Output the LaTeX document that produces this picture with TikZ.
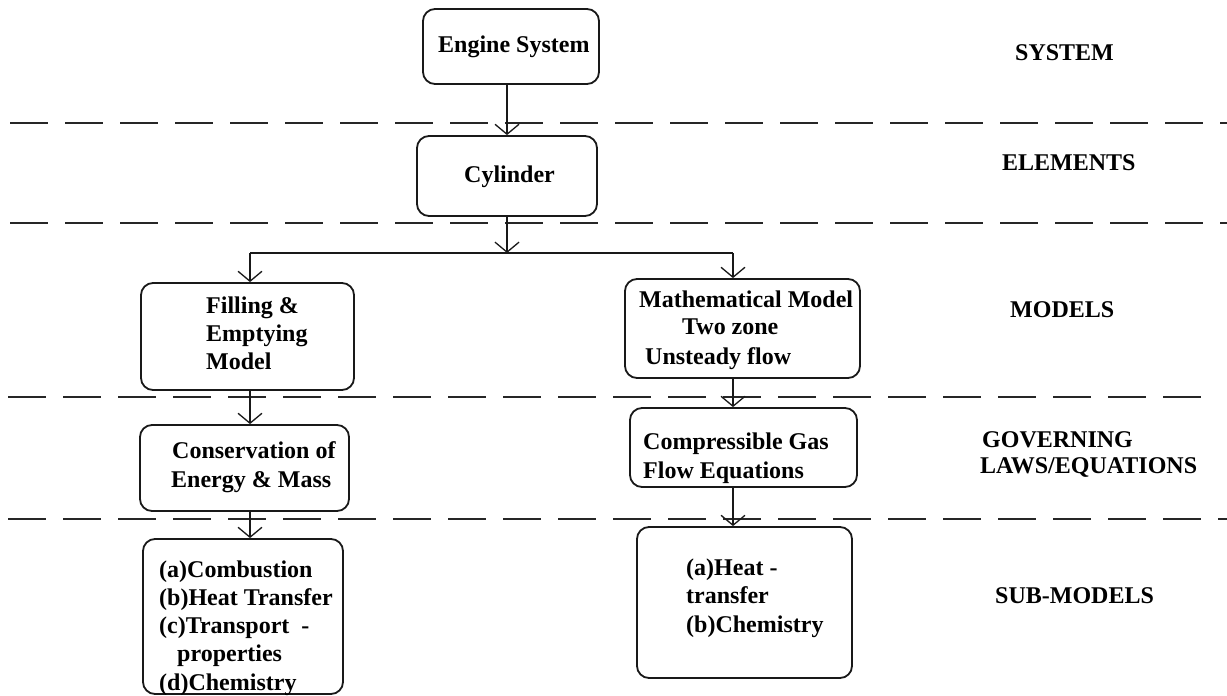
\documentclass[tikz,border=0pt]{standalone}
\usepackage{fontspec}
\setmainfont{Liberation Serif}
\usetikzlibrary{arrows.meta}
\tikzset{
  box/.style={draw=black!90, line width=1.8pt, rounded corners=12pt, inner sep=0pt},
  conn/.style={draw=black!90, line width=1.5pt},
  arr/.style={conn, -{Straight Barb[length=10pt,width=24pt,line width=1.3pt]}},
  sep/.style={draw=black!85, line width=2pt, dash pattern=on 38pt off 17pt},
  txt/.style={anchor=base west, inner sep=0pt, font=\bfseries\fontsize{24}{28}\selectfont},
  lbl/.style={txt}
}
\begin{document}
\begin{tikzpicture}[x=1pt,y=-1pt]
\useasboundingbox (0,0) rectangle (1227,696);
\fill[white] (0,0) rectangle (1227,696);

% separators
\draw[sep] (10,123) -- (1227,123);
\draw[sep] (10,223) -- (1227,223);
\draw[sep] (8,397) -- (1213,397);
\draw[sep] (8,519) -- (1227,519);

% boxes
\node[box, minimum width=176pt, minimum height=75pt] (eng) at (511,46.5) {};
\node[box, minimum width=180pt, minimum height=80pt] (cyl) at (507,176) {};
\node[box, minimum width=213pt, minimum height=107pt] (fill) at (247.5,336.5) {};
\node[box, minimum width=235pt, minimum height=99pt] (math) at (742.5,328.5) {};
\node[box, minimum width=209pt, minimum height=86pt] (cons) at (244.5,468) {};
\node[box, minimum width=227pt, minimum height=79pt] (comp) at (743.5,447.5) {};
\node[box, minimum width=200pt, minimum height=155pt] (subl) at (243,616.5) {};
\node[box, minimum width=215pt, minimum height=151pt] (subr) at (744.5,602.5) {};

% box texts
\node[txt] (t1) at (438,52) {Engine System};
\node[txt] (t2) at (464,182) {Cylinder};
\node[txt] (t3a) at (206,313) {Filling \&};
\node[txt] (t3b) at (206,341) {Emptying};
\node[txt] (t3c) at (206,369) {Model};
\node[txt] (t4a) at (639,307) {Mathematical Model};
\node[txt] (t4b) at (682,334) {Two zone};
\node[txt] (t4c) at (645,364) {Unsteady flow};
\node[txt] (t5a) at (172,458) {Conservation of};
\node[txt] (t5b) at (171,487) {Energy \& Mass};
\node[txt] (t6a) at (643,449) {Compressible Gas};
\node[txt] (t6b) at (643,478) {Flow Equations};
\node[txt] (t7a) at (159,577) {(a)Combustion};
\node[txt] (t7b) at (159,605) {(b)Heat Transfer};
\node[txt] (t7c) at (159,633) {(c)Transport\ \ -};
\node[txt] (t7d) at (177,661) {properties};
\node[txt] (t7e) at (159,690) {(d)Chemistry};
\node[txt] (t8a) at (686,575) {(a)Heat -};
\node[txt] (t8b) at (686,603) {transfer};
\node[txt] (t8c) at (686,632) {(b)Chemistry};

% level labels
\node[lbl] (l1) at (1015,60) {SYSTEM};
\node[lbl] (l2) at (1002,170) {ELEMENTS};
\node[lbl] (l3) at (1010,317) {MODELS};
\node[lbl] (l4a) at (982,447) {GOVERNING};
\node[lbl] (l4b) at (980,473) {LAWS/EQUATIONS};
\node[lbl] (l5) at (995,603) {SUB-MODELS};

% connectors
\coordinate (j) at (507,253);
\coordinate (jl) at (250,253);
\coordinate (jr) at (733,253);
\draw[arr] (cyl.north |- eng.south) -- (cyl.north);
\draw[arr] (cyl.south) -- (j);
\draw[conn] (jl) -- (jr);
\draw[arr] (jl) -- (jl |- fill.north);
\draw[arr] (jr) -- (jr |- math.north);
\draw[arr] (jl |- fill.south) -- (jl |- cons.north);
\draw[arr] (jr |- math.south) -- (jr |- comp.north);
\draw[arr] (jl |- cons.south) -- (jl |- subl.north);
\draw[arr] (jr |- comp.south) -- (jr |- subr.north);
\end{tikzpicture}
\end{document}
